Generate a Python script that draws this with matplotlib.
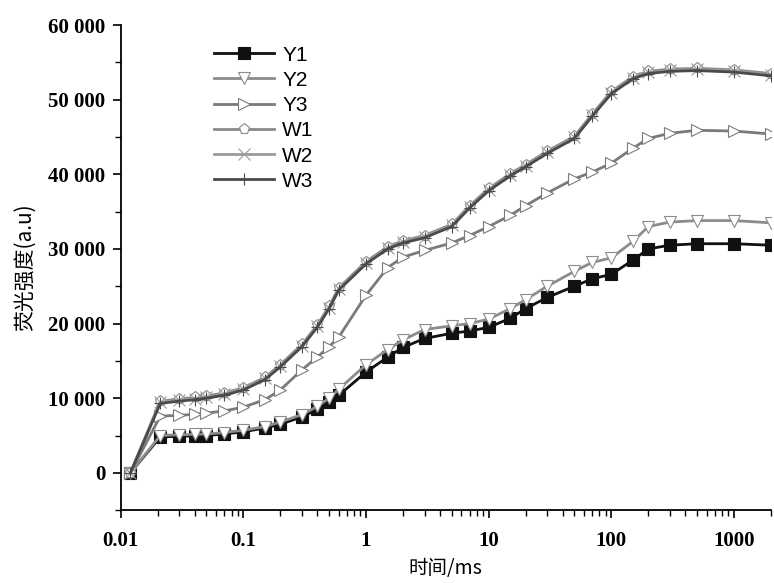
import numpy as np
import matplotlib
matplotlib.use("Agg")
import matplotlib.pyplot as plt
from matplotlib.ticker import FixedLocator, FuncFormatter, LogLocator, NullFormatter

# time axis (ms) shared by all series
time_ms = [0.012, 0.021, 0.03, 0.04, 0.05, 0.07, 0.1, 0.15, 0.2, 0.3, 0.4, 0.5, 0.6,
           1, 1.5, 2, 3, 5, 7, 10, 15, 20, 30, 50, 70, 100, 150, 200, 300, 500, 1000, 2000]

y1 = [0, 4800, 4900, 4950, 5000, 5200, 5500, 6000, 6500, 7500, 8500, 9500, 10400,
      13500, 15500, 16800, 18000, 18700, 19000, 19500, 20700, 22000, 23500, 25000,
      26000, 26600, 28500, 30000, 30500, 30700, 30700, 30500]
y2 = [0, 5000, 5100, 5150, 5200, 5400, 5700, 6200, 6800, 7800, 8900, 10000, 11200,
      14500, 16500, 17800, 19200, 19700, 20000, 20600, 22000, 23200, 25000, 27000,
      28200, 28800, 31000, 33000, 33600, 33800, 33800, 33500]
y3 = [0, 7600, 7700, 7850, 8000, 8300, 8800, 9800, 11100, 13800, 15500, 16900, 18200,
      23800, 27500, 28900, 29800, 30800, 31800, 33000, 34500, 35800, 37500, 39400,
      40300, 41500, 43500, 44800, 45500, 45900, 45800, 45400]
w1 = [0, 9600, 9900, 10100, 10300, 10700, 11400, 12800, 14500, 17200, 19800, 22300, 24800,
      28300, 30300, 31100, 31800, 33300, 35800, 38100, 40100, 41300, 43100, 45100,
      48100, 51100, 53100, 53800, 54100, 54200, 54000, 53500]
w2 = [0, 9450, 9750, 9950, 10150, 10550, 11250, 12650, 14350, 17050, 19650, 22150, 24650,
      28150, 30150, 30950, 31650, 33150, 35650, 37950, 39950, 41150, 42950, 44950,
      47950, 50950, 52950, 53650, 53950, 54050, 53850, 53350]
w3 = [0, 9300, 9600, 9800, 10000, 10400, 11100, 12500, 14200, 16900, 19500, 22000, 24500,
      28000, 30000, 30800, 31500, 33000, 35500, 37800, 39800, 41000, 42800, 44800,
      47800, 50800, 52800, 53500, 53800, 53900, 53700, 53200]

series = [
    ("Y1", y1, "#111111", "s", "#111111"),
    ("Y2", y2, "#8c8c8c", "v", "white"),
    ("Y3", y3, "#7a7a7a", ">", "white"),
    ("W1", w1, "#8a8a8a", "p", "white"),
    ("W2", w2, "#9a9a9a", "x", "none"),
    ("W3", w3, "#4a4a4a", "+", "none"),
]

fig = plt.figure(figsize=(7.74, 5.83), dpi=100)
ax = fig.add_axes([0.156, 0.125, 0.84, 0.832])

for label, values, color, marker, face in series:
    ax.plot(time_ms, values, color=color, linewidth=2.0, marker=marker,
            markersize=8, markerfacecolor=face, markeredgecolor=color,
            markeredgewidth=0.8, label=label)

ax.set_xscale("log")
ax.set_xlim(0.01, 2000)
ax.set_ylim(-5000, 60000)

ax.yaxis.set_major_locator(FixedLocator([0, 10000, 20000, 30000, 40000, 50000, 60000]))
ax.yaxis.set_minor_locator(FixedLocator([-5000, 5000, 15000, 25000, 35000, 45000, 55000]))
ax.yaxis.set_major_formatter(FuncFormatter(lambda v, p: f"{int(v):,}".replace(",", " ")))
ax.xaxis.set_major_locator(FixedLocator([0.01, 0.1, 1, 10, 100, 1000]))
ax.xaxis.set_major_formatter(FuncFormatter(lambda v, p: f"{v:g}"))
ax.xaxis.set_minor_locator(LogLocator(base=10, subs=np.arange(2, 10)))
ax.xaxis.set_minor_formatter(NullFormatter())

for side in ("top", "right"):
    ax.spines[side].set_visible(False)
for side in ("left", "bottom"):
    ax.spines[side].set_linewidth(1.3)

ax.tick_params(which="major", direction="out", length=6, width=1.2,
               labelsize=15, pad=5)
ax.tick_params(axis="x", which="major", pad=9)
ax.tick_params(which="minor", direction="out", length=4, width=1.0)
for lab in ax.get_xticklabels() + ax.get_yticklabels():
    lab.set_fontfamily("Liberation Serif")
    lab.set_fontweight("bold")

ax.set_xlabel("时间/ms", fontsize=14, family=["Noto Sans CJK SC", "Liberation Serif"],
              labelpad=5)
ax.set_ylabel("荧光强度(a.u)", fontsize=15, family=["Noto Sans CJK SC", "DejaVu Sans"],
              labelpad=9)

ax.legend(loc="upper left", bbox_to_anchor=(0.13, 0.975), frameon=False,
          prop={"family": "Liberation Sans", "size": 15}, handlelength=2.9,
          labelspacing=0.3, handletextpad=0.4, borderaxespad=0.0)

fig.savefig("out.png", dpi=100)
